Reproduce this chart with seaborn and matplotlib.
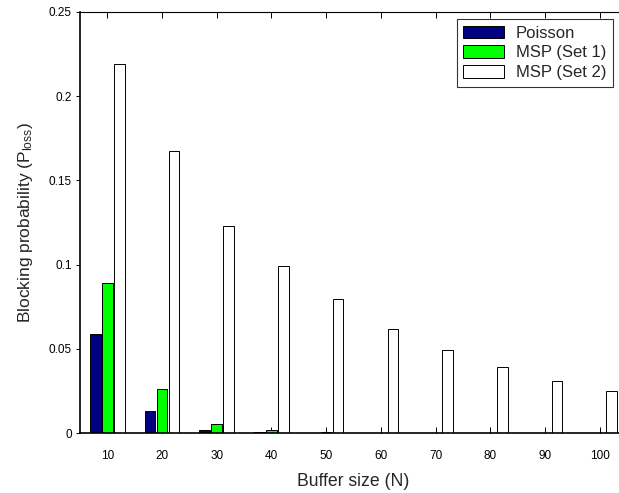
import matplotlib
matplotlib.use("Agg")
import matplotlib.pyplot as plt
import seaborn as sns
import pandas as pd

# Buffer sizes and blocking probabilities per arrival model
buffer_sizes = [10, 20, 30, 40, 50, 60, 70, 80, 90, 100]
poisson = [0.0585, 0.0130, 0.0020, 0.0003, 0.0001, 0.0, 0.0, 0.0, 0.0, 0.0]
msp_set1 = [0.0893, 0.0262, 0.0055, 0.0018, 0.0004, 0.0, 0.0, 0.0, 0.0, 0.0]
msp_set2 = [0.2190, 0.1675, 0.1230, 0.0990, 0.0797, 0.0617, 0.0490, 0.0390, 0.0310, 0.0248]
series_names = ["Poisson", "MSP (Set 1)", "MSP (Set 2)"]
series_colors = ["#000080", "#00FF00", "#FFFFFF"]

sns.set_theme(style="white")
plt.rcParams["font.family"] = ["Liberation Sans", "DejaVu Sans"]
plt.rcParams["mathtext.default"] = "regular"

rows = []
for name, vals in zip(series_names, [poisson, msp_set1, msp_set2]):
    for n, v in zip(buffer_sizes, vals):
        rows.append({"N": str(n), "series": name, "p": v})
df = pd.DataFrame(rows)

fig = plt.figure(figsize=(6.19, 4.93), dpi=100)
ax = fig.add_axes([80 / 619, 60 / 493, (627 - 80) / 619, (433 - 12) / 493])

sns.barplot(data=df, x="N", y="p", hue="series",
            order=[str(n) for n in buffer_sizes], hue_order=series_names,
            palette=dict(zip(series_names, series_colors)), saturation=1,
            width=0.66, gap=0.12, edgecolor="black", linewidth=0.7,
            errorbar=None, ax=ax)

ax.set_xlim(-0.5, len(buffer_sizes) - 0.5)
ax.set_ylim(0, 0.25)
ax.set_yticks([0, 0.05, 0.1, 0.15, 0.2, 0.25])
ax.set_yticklabels(["0", "0.05", "0.1", "0.15", "0.2", "0.25"])
ax.tick_params(axis="both", labelsize=8.5, colors="black")
ax.tick_params(axis="x", direction="in", length=4, width=0.7, top=True, bottom=True, pad=12)
ax.tick_params(axis="y", direction="out", length=3, width=0.7, left=True, pad=3)

for side in ["top", "right", "bottom", "left"]:
    ax.spines[side].set_color("black")
    ax.spines[side].set_linewidth(0.8)
ax.spines["left"].set_linewidth(1.2)
ax.spines["bottom"].set_linewidth(1.2)

ax.set_xlabel("Buffer size (N)", fontsize=12.7, labelpad=8)
ax.set_ylabel("Blocking probability (P$_{loss}$)", fontsize=12.5, labelpad=10)

handles, labels = ax.get_legend_handles_labels()
leg = ax.legend(handles, labels, loc="upper right",
                bbox_to_anchor=((613 - 80) / (627 - 80), 1 - 7 / 421),
                fontsize=12, frameon=True, fancybox=False, edgecolor="black",
                handlelength=2.45, handleheight=0.78, handletextpad=0.7,
                borderpad=0.4, labelspacing=0.28, borderaxespad=0)
leg.get_frame().set_linewidth(0.8)

fig.savefig("out.png", dpi=100, facecolor="white")
